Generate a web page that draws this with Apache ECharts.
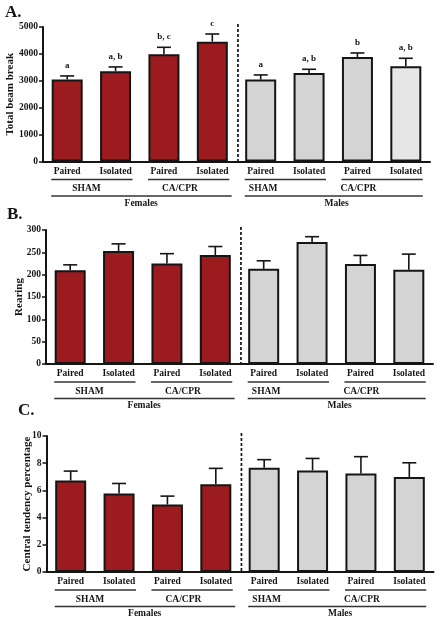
<!DOCTYPE html>
<html>
<head>
<meta charset="utf-8">
<script src="https://cdn.jsdelivr.net/npm/echarts@6/dist/echarts.min.js"></script>
<style>html,body{margin:0;padding:0;background:#fff;}#c{width:440px;height:621px;}</style>
</head>
<body>
<div id="c"></div>
<script>
// ---- data ----
const categories = ['Paired','Isolated','Paired','Isolated','Paired','Isolated','Paired','Isolated'];
const conditions = ['SHAM','CA/CPR','SHAM','CA/CPR'];
const sexes = ['Females','Males'];

const beamMean = [3045, 3354, 3985, 4455, 3045, 3292, 3886, 3540];
const beamSem  = [136, 161, 260, 285, 173, 136, 149, 297];
const beamSig  = ['a', 'a, b', 'b, c', 'c', 'a', 'a, b', 'b', 'a, b'];

const rearMean = [210, 253, 225, 244, 213, 273, 224, 211];
const rearSem  = [12, 16, 22, 19, 18, 12, 19, 35];

const ctpMean = [6.73, 5.77, 4.96, 6.46, 7.67, 7.47, 7.25, 6.98];
const ctpSem  = [0.69, 0.74, 0.62, 1.16, 0.59, 0.88, 1.23, 1.05];

const beamTicks = [0, 1000, 2000, 3000, 4000, 5000];
const rearTicks = [0, 50, 100, 150, 200, 250, 300];
const ctpTicks  = [0, 2, 4, 6, 8, 10];

const panelLetters = ['A.', 'B.', 'C.'];
const yNames = ['Total beam break', 'Rearing', 'Central tendency percentage'];

// ---- style ----
const SERIF = '"Liberation Serif", "DejaVu Serif", serif';
const RED = '#9c1b1f';
const GREY = '#d4d4d4';
const LIGHTGREY = '#e6e6e6';
const INK = '#151515';

const panels = [
  {mean: beamMean, sem: beamSem, sig: beamSig, ticks: beamTicks, grid: {left: 43, top: 27, width: 387, height: 134.5}, nameGap: 27, lastLight: true, titlePos: [5, 13]},
  {mean: rearMean, sem: rearSem, sig: null, ticks: rearTicks, grid: {left: 46, top: 230, width: 387, height: 134}, nameGap: 21.5, lastLight: false, titlePos: [7, 215]},
  {mean: ctpMean, sem: ctpSem, sig: null, ticks: ctpTicks, grid: {left: 46.5, top: 436, width: 387, height: 136}, nameGap: 13.5, lastLight: false, titlePos: [18, 411]}
];

function barColor(i, lastLight) {
  if (i < 4) return RED;
  if (lastLight && i === 7) return LIGHTGREY;
  return GREY;
}

function makeErr(sig) {
  return function (params, api) {
    const i = api.value(0), m = api.value(1), e = api.value(2);
    const p0 = api.coord([i, m]);
    const p1 = api.coord([i, m + e]);
    const st = {stroke: INK, lineWidth: 1.6};
    const children = [
      {type: 'line', shape: {x1: p0[0], y1: p0[1], x2: p1[0], y2: p1[1]}, style: st},
      {type: 'line', shape: {x1: p1[0] - 7, y1: p1[1], x2: p1[0] + 7, y2: p1[1]}, style: st}
    ];
    if (sig && sig[params.dataIndex]) {
      children.push({type: 'text', style: {text: sig[params.dataIndex], x: p1[0], y: p1[1] - 6,
        align: 'center', verticalAlign: 'bottom', fontFamily: SERIF, fontWeight: 'bold', fontSize: 9, fill: INK}});
    }
    return {type: 'group', children: children};
  };
}

const option = {
  animation: false,
  backgroundColor: '#fff',
  grid: panels.map(p => Object.assign({containLabel: false, outerBoundsMode: 'none'}, p.grid)),
  xAxis: panels.map((p, g) => ({
    type: 'category', gridIndex: g, data: categories,
    axisLine: {lineStyle: {color: INK, width: 2}},
    axisTick: {alignWithLabel: true, length: 3, lineStyle: {color: INK, width: 1.5}},
    axisLabel: {interval: 0, margin: 5, fontFamily: SERIF, fontWeight: 'bold', fontSize: 9.5, color: INK},
    splitLine: {show: false}
  })),
  yAxis: panels.map((p, g) => ({
    type: 'value', gridIndex: g,
    min: p.ticks[0], max: p.ticks[p.ticks.length - 1], interval: p.ticks[1] - p.ticks[0],
    name: yNames[g], nameLocation: 'middle', nameGap: p.nameGap, nameMoveOverlap: false,
    nameTextStyle: {fontFamily: SERIF, fontWeight: 'bold', fontSize: 11, color: INK},
    axisLine: {show: true, lineStyle: {color: INK, width: 2}},
    axisTick: {show: true, length: 4, lineStyle: {color: INK, width: 1.5}},
    axisLabel: {margin: 5, fontFamily: SERIF, fontWeight: 'bold', fontSize: 9.5, color: INK, formatter: v => String(v)},
    splitLine: {show: false}
  })),
  series: []
};

panels.forEach((p, g) => {
  option.series.push({
    type: 'bar', xAxisIndex: g, yAxisIndex: g, barWidth: 31,
    data: p.mean.map((v, i) => ({value: v, itemStyle: {color: barColor(i, p.lastLight)}})),
    itemStyle: {borderColor: INK, borderWidth: 2},
    z: 2
  });
  option.series.push({
    type: 'custom', xAxisIndex: g, yAxisIndex: g,
    data: p.mean.map((v, i) => [i, v, p.sem[i]]),
    renderItem: makeErr(p.sig),
    z: 3
  });
});

const chart = echarts.init(document.getElementById('c'), null, {renderer: 'canvas'});
chart.setOption(option);

// ---- annotation layer (group labels, underlines, dashed separator) ----
const graphics = [];
const condPos = [0.4, 2.33, 4.05, 6.02];
const sexPos = [1.53, 5.57];
const sexSpans = [[-0.33, 3.4], [3.67, 7.35]];
const txt = (text, x, y, size, align) => ({type: 'text', silent: true,
  style: {text: text, x: x, y: y, align: align || 'center', verticalAlign: 'middle', fontFamily: SERIF, fontWeight: 'bold', fontSize: size, fill: INK}});
const seg = (x1, y1, x2, y2, w, dash) => ({type: 'line', silent: true,
  shape: {x1: x1, y1: y1, x2: x2, y2: y2}, style: {stroke: dash ? INK : '#333', lineWidth: w, lineDash: dash || null}});

panels.forEach((p, g) => {
  const a = chart.convertToPixel({xAxisIndex: g}, 0);
  const b = chart.convertToPixel({xAxisIndex: g}, 1);
  const xAt = v => a + v * (b - a);
  const y0 = chart.convertToPixel({yAxisIndex: g}, p.ticks[0]);
  const yTop = chart.convertToPixel({yAxisIndex: g}, p.ticks[p.ticks.length - 1]);
  for (let k = 0; k < 4; k++) {
    graphics.push(seg(xAt(2 * k - 0.33), y0 + 18, xAt(2 * k + 1.35), y0 + 18, 1.5));
    graphics.push(txt(conditions[k], xAt(condPos[k]), y0 + 27.5, 9.5));
  }
  for (let s = 0; s < 2; s++) {
    graphics.push(seg(xAt(sexSpans[s][0]), y0 + 34.5, xAt(sexSpans[s][1]), y0 + 34.5, 1.5));
    graphics.push(txt(sexes[s], xAt(sexPos[s]), y0 + 42, 9.5));
  }
  graphics.push(seg(xAt(3.53), yTop - 3, xAt(3.53), y0, 1.7, [3, 2]));
  graphics.push(txt(panelLetters[g], p.titlePos[0], p.titlePos[1], 17, 'left'));
});
chart.setOption({graphic: graphics});
</script>
</body>
</html>
